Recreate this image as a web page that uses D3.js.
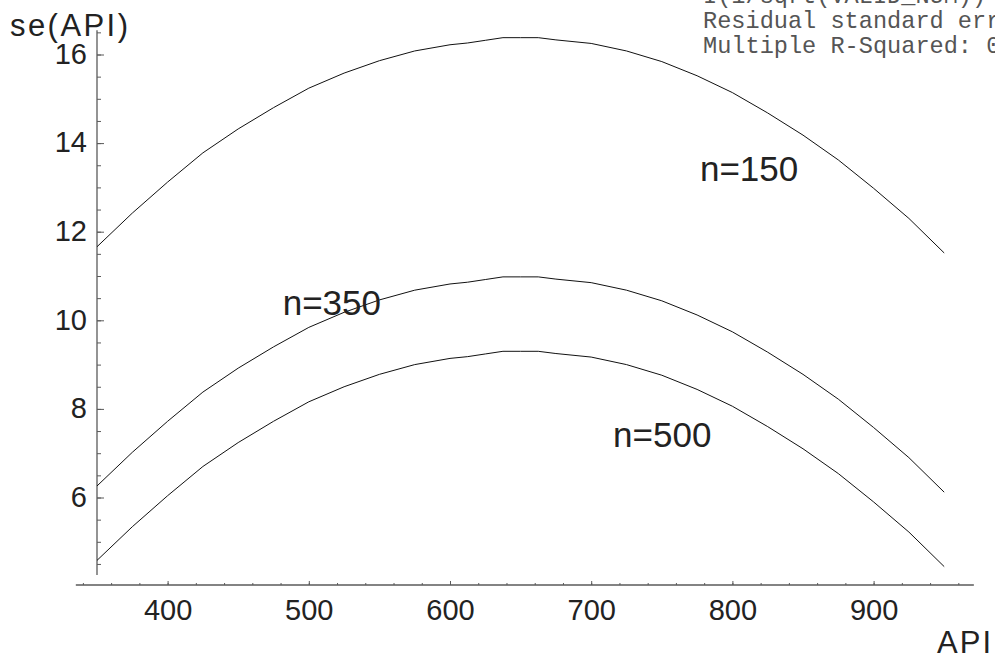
<!DOCTYPE html>
<html>
<head>
<meta charset="utf-8">
<script src="https://cdn.jsdelivr.net/npm/d3@7"></script>
<style>
  html, body { margin: 0; padding: 0; background: #fff; }
  svg { display: block; }
  .tick text { font-family: "Liberation Sans", Arial, Helvetica, sans-serif; fill: #222; }
</style>
</head>
<body>
<svg id="chart" width="995" height="657"></svg>
<script>
// Standard error of the predicted API score for three school sizes
const apiValues = [350, 375, 400, 425, 450, 475, 500, 525, 550, 575, 600, 612.5, 625, 637.5,
                   650, 662.5, 675, 700, 725, 750, 775, 800, 825, 850, 875, 900, 925, 950];
const seN150 = [11.66, 12.42, 13.12, 13.78, 14.32, 14.80, 15.24, 15.58, 15.86, 16.08, 16.22, 16.26, 16.32, 16.38,
                16.38, 16.38, 16.33, 16.25, 16.08, 15.84, 15.52, 15.14, 14.68, 14.18, 13.62, 12.98, 12.30, 11.52];
const seN350 = [6.26, 7.02, 7.72, 8.38, 8.92, 9.40, 9.84, 10.18, 10.46, 10.68, 10.82, 10.86, 10.92, 10.98,
                10.98, 10.98, 10.93, 10.85, 10.68, 10.44, 10.12, 9.74, 9.28, 8.78, 8.22, 7.58, 6.90, 6.12];
const seN500 = [4.58, 5.34, 6.04, 6.70, 7.24, 7.72, 8.16, 8.50, 8.78, 9.00, 9.14, 9.18, 9.24, 9.30,
                9.30, 9.30, 9.25, 9.17, 9.00, 8.76, 8.44, 8.06, 7.60, 7.10, 6.54, 5.90, 5.22, 4.44];

const seriesLabels = ["n=150", "n=350", "n=500"];
// label anchor points (left end of baseline) in data units (API, se)
const labelApi = [777, 481.5, 715.5];
const labelSe = [13.14, 10.12, 7.14];

const xTicks = [400, 500, 600, 700, 800, 900];
const yTicks = [6, 8, 10, 12, 14, 16];
const xMinorTicks = d3.range(340, 961, 20);
const yMinorTicks = d3.range(4.5, 16.51, 0.5);

const regressionText = [
  "I(1/sqrt(VALID_NUM))",
  "Residual standard error: 3.155 on 1243 degrees of freedom",
  "Multiple R-Squared: 0.9166"
];

const svg = d3.select("#chart");

const x = d3.scaleLinear().domain([350, 950]).range([97, 944.2]);
const y = d3.scaleLinear().domain([6, 16]).range([497.5, 54.5]);

const axisColor = "#5a5a5a";
const xAxisY = y(4.025);

// axis lines
svg.append("line")
  .attr("x1", x(335)).attr("x2", x(971))
  .attr("y1", xAxisY).attr("y2", xAxisY)
  .attr("stroke", axisColor).attr("stroke-width", 1.3);
svg.append("line")
  .attr("x1", x(350)).attr("x2", x(350))
  .attr("y1", y(16.55)).attr("y2", y(4.25))
  .attr("stroke", axisColor).attr("stroke-width", 1.3);

// y axis: minor then major ticks pointing into the plot
const gyMinor = svg.append("g").attr("transform", `translate(${x(350)},0)`)
  .call(d3.axisLeft(y).tickValues(yMinorTicks).tickSizeInner(-4).tickSizeOuter(0).tickFormat(""));
const gy = svg.append("g").attr("transform", `translate(${x(350)},0)`)
  .call(d3.axisLeft(y).tickValues(yTicks).tickSizeInner(-7).tickSizeOuter(0).tickPadding(10)
    .tickFormat(d3.format("d")));
[gyMinor, gy].forEach(g => {
  g.select(".domain").remove();
  g.selectAll(".tick line").attr("stroke", axisColor);
});
gy.selectAll(".tick text").attr("font-size", 29).attr("dy", "0.3em");

// x axis
const gxMinor = svg.append("g").attr("transform", `translate(0,${xAxisY})`)
  .call(d3.axisBottom(x).tickValues(xMinorTicks).tickSizeInner(-2).tickSizeOuter(0).tickFormat(""));
const gx = svg.append("g").attr("transform", `translate(0,${xAxisY})`)
  .call(d3.axisBottom(x).tickValues(xTicks).tickSizeInner(-4).tickSizeOuter(0).tickFormat(d3.format("d")));
[gxMinor, gx].forEach(g => {
  g.select(".domain").remove();
  g.selectAll(".tick line").attr("stroke", axisColor);
});
gx.selectAll(".tick text").attr("font-size", 29).attr("y", 35).attr("dy", 0);

// curves
const line = d3.line().x((d, i) => x(apiValues[i])).y(d => y(d));
[seN150, seN350, seN500].forEach(s => {
  svg.append("path").datum(s)
    .attr("d", line)
    .attr("fill", "none")
    .attr("stroke", "#111")
    .attr("stroke-width", 1);
});

// curve labels
const font = '"Liberation Sans", Arial, Helvetica, sans-serif';
seriesLabels.forEach((t, i) => {
  svg.append("text")
    .attr("x", x(labelApi[i])).attr("y", y(labelSe[i]))
    .attr("font-family", font).attr("font-size", 35).attr("fill", "#222")
    .text(t);
});

// axis titles
svg.append("text").attr("x", 10).attr("y", 36)
  .attr("font-family", font).attr("font-size", 31).attr("fill", "#222")
  .attr("textLength", 118).attr("lengthAdjust", "spacing")
  .text("se(API)");
svg.append("text").attr("x", 937).attr("y", 653)
  .attr("font-family", font).attr("font-size", 31).attr("fill", "#222")
  .attr("textLength", 54).attr("lengthAdjust", "spacing")
  .text("API");

// regression summary in the top-right corner
svg.selectAll(".summary").data(regressionText).enter().append("text")
  .attr("class", "summary")
  .attr("x", 703).attr("y", (d, i) => 3 + i * 25)
  .attr("font-family", '"Liberation Mono", "Courier New", monospace')
  .attr("font-size", 23.6).attr("fill", "#555")
  .style("white-space", "pre")
  .text(d => d);
</script>
</body>
</html>
